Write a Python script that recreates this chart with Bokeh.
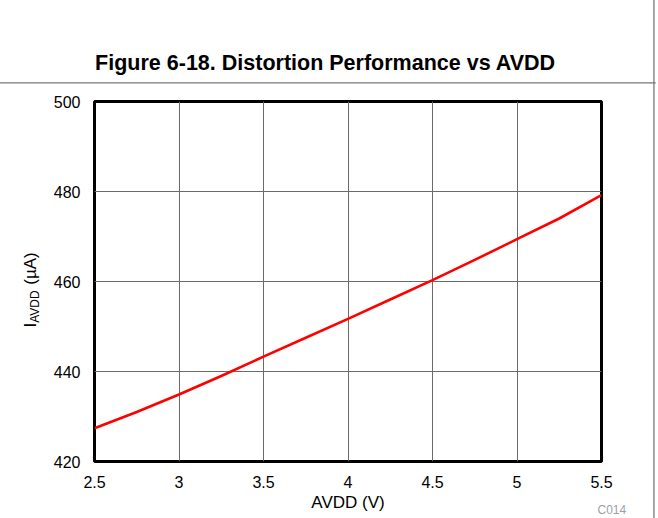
import math
from bokeh.plotting import figure
from bokeh.models import Range1d, FixedTicker, Label
from bokeh.embed import file_html
from bokeh.resources import INLINE

# ---- data ----
avdd = [2.5, 2.75, 3.0, 3.25, 3.5, 3.75, 4.0, 4.25, 4.5, 4.75, 5.0, 5.25, 5.5]
i_avdd = [427.4, 431.0, 434.9, 439.0, 443.3, 447.5, 451.7, 456.0, 460.3, 464.8, 469.4, 474.0, 479.2]

x_ticks = [2.5, 3.0, 3.5, 4.0, 4.5, 5.0, 5.5]
x_tick_labels = ["2.5", "3", "3.5", "4", "4.5", "5", "5.5"]
y_ticks = [420, 440, 460, 480, 500]
y_tick_labels = ["420", "440", "460", "480", "500"]

title_text = "Figure 6-18. Distortion Performance vs AVDD"
x_label = "AVDD (V)"
y_label_main = "I"
y_label_sub = "AVDD"
y_label_rest = "(µA)"
code_text = "C014"

FONT = "Liberation Sans"

p = figure(width=658, height=518, output_backend="svg", toolbar_location=None,
           x_range=Range1d(2.5, 5.5), y_range=Range1d(420, 500),
           min_border_left=94, min_border_right=57, min_border_top=101, min_border_bottom=57)

p.background_fill_color = "white"
p.border_fill_color = "white"
p.outline_line_color = "black"
p.outline_line_width = 3

for ax in (p.xaxis[0], p.yaxis[0]):
    ax.axis_line_color = None
    ax.major_tick_line_color = None
    ax.minor_tick_line_color = None
    ax.major_tick_out = 0
    ax.major_tick_in = 0
    ax.major_label_text_font = FONT
    ax.major_label_text_font_size = "16px"
    ax.major_label_text_color = "black"

p.xaxis[0].ticker = FixedTicker(ticks=x_ticks)
p.xaxis[0].major_label_overrides = {t: s for t, s in zip(x_ticks, x_tick_labels)}
p.xaxis[0].major_label_standoff = 14
p.xaxis[0].axis_label = x_label
p.xaxis[0].axis_label_text_font = FONT
p.xaxis[0].axis_label_text_font_size = "17px"
p.xaxis[0].axis_label_text_font_style = "normal"
p.xaxis[0].axis_label_text_color = "black"
p.xaxis[0].axis_label_standoff = 2

p.yaxis[0].ticker = FixedTicker(ticks=y_ticks)
p.yaxis[0].major_label_overrides = {t: s for t, s in zip(y_ticks, y_tick_labels)}
p.yaxis[0].major_label_standoff = 14

p.xgrid.grid_line_color = "#6a6a6a"
p.ygrid.grid_line_color = "#6a6a6a"
p.xgrid.grid_line_width = 1
p.ygrid.grid_line_width = 1

p.line(avdd, i_avdd, line_color="#ff0000", line_width=2.6)


def canvas_label(text, x, y, side, **kw):
    lab = Label(x=x, y=y, x_units="canvas", y_units="canvas", text=text,
                text_font=FONT, **kw)
    p.add_layout(lab, side)
    return lab


# title
canvas_label(title_text, 325, 62, "above", text_font_size="21.5px", text_font_style="bold",
             text_align="center", text_baseline="alphabetic", text_color="black")

# y axis label: I + subscript AVDD + (µA), rotated
ylx, yly = 30, 327
main_w = 0.278 * 17
sub_w = (0.667 + 0.667 + 0.722 + 0.722) * 12
space_w = 0.278 * 17
canvas_label(y_label_main, ylx, yly, "above", angle=math.pi / 2, text_font_size="17px",
             text_align="left", text_baseline="alphabetic", text_color="black")
canvas_label(y_label_sub, ylx + 4.5, yly - main_w, "above", angle=math.pi / 2, text_font_size="12px",
             text_align="left", text_baseline="alphabetic", text_color="black")
canvas_label(y_label_rest, ylx, yly - main_w - sub_w - space_w, "left", angle=math.pi / 2,
             text_font_size="17px", text_align="left", text_baseline="alphabetic", text_color="black")

# figure code
canvas_label(code_text, 597, 516.5, "right", text_font_size="12px", text_color="#a0a0a0",
             text_align="left", text_baseline="bottom")

# page rules (thin filled boxes)
canvas_label(" ", -5, 81.8, "above", text_font_size="1px", text_align="left", text_baseline="top",
             padding=(0, 660, 0, 0), background_fill_color="#777777", background_fill_alpha=1.0)
canvas_label(" ", 652.8, -5, "right", text_font_size="1px", text_align="left", text_baseline="top",
             padding=(0, 1, 540, 0), background_fill_color="#777777", background_fill_alpha=1.0)

open("out.html", "w").write(file_html(p, INLINE))
